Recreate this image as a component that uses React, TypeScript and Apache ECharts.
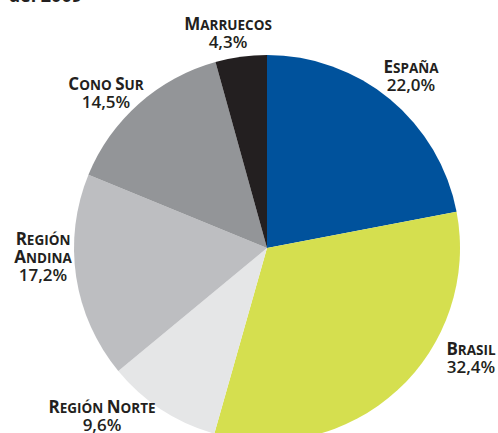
import React, { useEffect, useRef } from "react";
import * as echarts from "echarts";

const regions = ["España", "Brasil", "Región Norte", "Región Andina", "Cono Sur", "Marruecos"];
const shares = [22.0, 32.4, 9.6, 17.2, 14.5, 4.3];
const sliceColors = ["#00529c", "#d5df4f", "#e5e6e7", "#bdbec1", "#939598", "#231f20"];
const labelSpots: [number, number][] = [
  [411, 75],
  [471, 357],
  [102, 415],
  [43, 256],
  [106, 92],
  [228, 32],
];

function smallCaps(name: string): string {
  const words = name.split(" ");
  const parts = words.map((w) => `{big|${w[0].toUpperCase()}}{small|${w.slice(1).toUpperCase()}}`);
  if (name === "Región Andina") return parts.join("\n");
  return parts.join("{small| }");
}

export default function App() {
  const ref = useRef<HTMLDivElement>(null);
  useEffect(() => {
    if (!ref.current) return;
    const chart = echarts.init(ref.current, undefined, { renderer: "svg" });
    const font = "'Open Sans', 'DejaVu Sans', sans-serif";
    chart.setOption({
      animation: false,
      backgroundColor: "#ffffff",
      graphic: [
        {
          type: "text",
          right: 416,
          top: -14,
          style: {
            text: "del 2009",
            fontFamily: font,
            fontWeight: 700,
            fontSize: 18,
            fill: "#231f20",
          },
        },
      ],
      series: [
        {
          type: "pie",
          center: [267, 248],
          radius: 193,
          startAngle: 90,
          clockwise: true,
          silent: true,
          data: regions.map((r, i) => ({
            name: r,
            value: shares[i],
            itemStyle: { color: sliceColors[i] },
          })),
          labelLine: { show: false },
          label: {
            show: true,
            position: "outside",
            overflow: "none",
            fontFamily: font,
            color: "#231f20",
            align: "center",
            formatter: (p: any) =>
              `${smallCaps(p.name)}\n{pct|${p.value.toFixed(1).replace(".", ",")}%}`,
            rich: {
              big: { fontFamily: font, fontWeight: 700, fontSize: 17, lineHeight: 18, color: "#231f20", verticalAlign: "bottom" },
              small: { fontFamily: font, fontWeight: 700, fontSize: 13.5, lineHeight: 18, color: "#231f20", verticalAlign: "bottom" },
              pct: { fontFamily: font, fontWeight: 600, fontSize: 17, lineHeight: 19, color: "#231f20", align: "center" },
            },
          },
          labelLayout: (params: any) => {
            const s = labelSpots[params.dataIndex];
            return { x: s[0], y: s[1], align: "center", verticalAlign: "middle", hideOverlap: false };
          },
        },
      ],
    });
    return () => chart.dispose();
  }, []);
  return (
    <div
      ref={ref}
      style={{ position: "fixed", left: 0, top: 0, width: 498, height: 433 }}
    />
  );
}
